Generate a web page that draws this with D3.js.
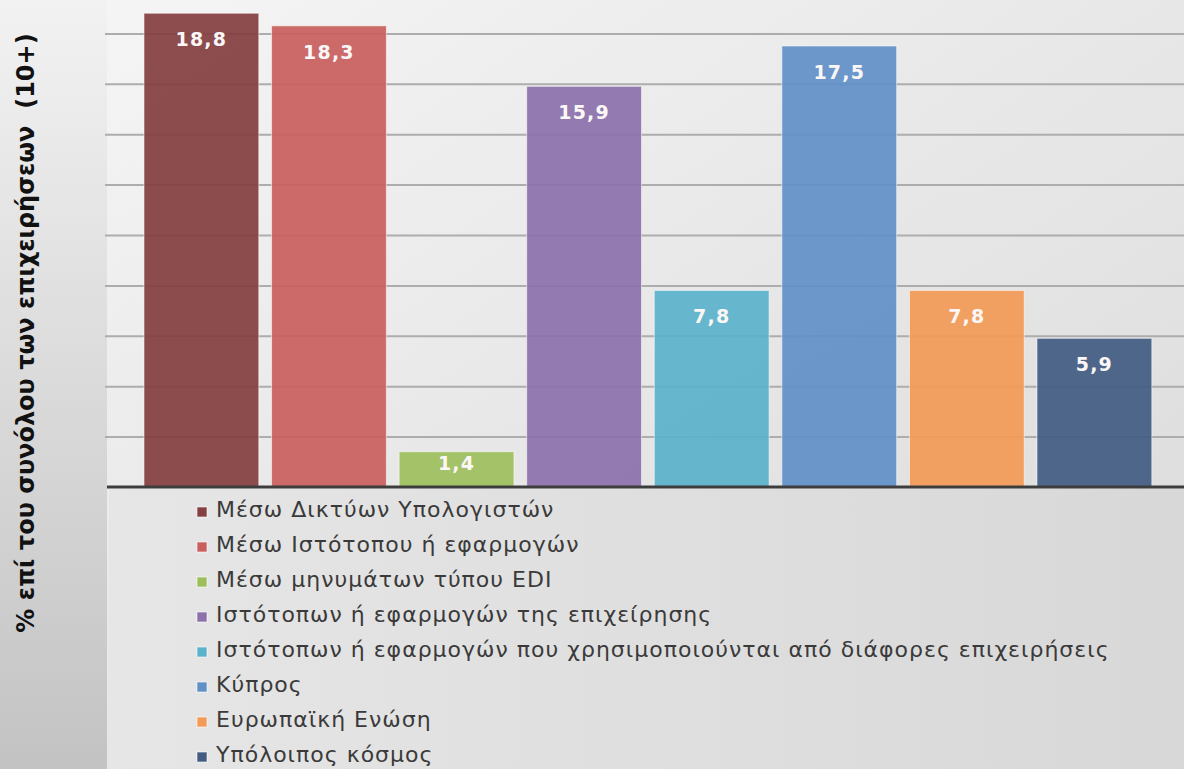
<!DOCTYPE html>
<html>
<head>
<meta charset="utf-8">
<script src="https://cdn.jsdelivr.net/npm/d3@7"></script>
<style>
  body { margin: 0; background: #fff; }
  svg { display: block; }
</style>
</head>
<body>
<div id="chart"></div>
<script>
// data
const categories = [
  "Μέσω Δικτύων Υπολογιστών",
  "Μέσω Ιστότοπου ή εφαρμογών",
  "Μέσω μηνυμάτων τύπου EDI",
  "Ιστότοπων ή εφαρμογών της επιχείρησης",
  "Ιστότοπων ή εφαρμογών που χρησιμοποιούνται από διάφορες επιχειρήσεις",
  "Κύπρος",
  "Ευρωπαϊκή Ενώση",
  "Υπόλοιπος κόσμος"
];
const values = [18.8, 18.3, 1.4, 15.9, 7.8, 17.5, 7.8, 5.9];
const colors = ["#843f42", "#c8605f", "#9ebe5c", "#8c71ab", "#5bb2ca", "#6190c7", "#f39b57", "#435c82"];
const gridTicks = [2, 4, 6, 8, 10, 12, 14, 16, 18];
const yLabel = "% επί του συνόλου των επιχειρήσεων  (10+)";

const W = 1184, H = 769;
const stripW = 107;      // left panel holding the axis title
const baseY = 487;       // zero line

const svg = d3.select("#chart")
  .append("svg")
  .attr("width", W)
  .attr("height", H);

// backgrounds
const defs = svg.append("defs");
const gStrip = defs.append("linearGradient").attr("id", "strip")
  .attr("x1", 0).attr("y1", 0).attr("x2", 0).attr("y2", 1);
gStrip.append("stop").attr("offset", "0%").attr("stop-color", "#f2f2f2");
gStrip.append("stop").attr("offset", "100%").attr("stop-color", "#c3c3c3");

const gPlot = defs.append("linearGradient").attr("id", "plotbg")
  .attr("x1", 0).attr("y1", 0).attr("x2", 1).attr("y2", 1);
gPlot.append("stop").attr("offset", "0%").attr("stop-color", "#f6f6f6");
gPlot.append("stop").attr("offset", "100%").attr("stop-color", "#d9d9d9");

const gLeg = defs.append("linearGradient").attr("id", "legbg")
  .attr("x1", 0).attr("y1", 0).attr("x2", 1).attr("y2", 0);
gLeg.append("stop").attr("offset", "0%").attr("stop-color", "#e6e6e6");
gLeg.append("stop").attr("offset", "100%").attr("stop-color", "#d8d8d8");

svg.append("rect").attr("x", 0).attr("y", 0).attr("width", W).attr("height", H).attr("fill", "url(#plotbg)");
svg.append("rect").attr("x", stripW + 2).attr("y", baseY + 2).attr("width", W - stripW - 2).attr("height", H - baseY - 2)
  .attr("fill", "url(#legbg)");
svg.append("rect").attr("x", 0).attr("y", 0).attr("width", stripW).attr("height", H).attr("fill", "url(#strip)");

// scales
const x = d3.scaleBand()
  .domain(categories)
  .range([137.6, 1158.2])
  .paddingInner(0.1)
  .paddingOuter(0.05);

const y = d3.scaleLinear()
  .domain([0, 20])
  .range([baseY, baseY - 20 * 25.2]);

// gridlines
svg.append("g")
  .attr("class", "y axis-grid")
  .attr("transform", `translate(${stripW - 2},0)`)
  .call(d3.axisLeft(y).tickValues(gridTicks).tickSize(-(W - stripW + 2)).tickFormat(""))
  .call(g => g.select(".domain").remove())
  .call(g => g.selectAll("line").attr("stroke", "#adadad").attr("stroke-width", 2));

// bars
svg.append("g")
  .selectAll("rect")
  .data(values)
  .join("rect")
  .attr("x", (d, i) => x(categories[i]))
  .attr("y", d => y(d))
  .attr("width", x.bandwidth())
  .attr("height", d => y(0) - y(d))
  .attr("fill", (d, i) => colors[i])
  .attr("fill-opacity", 0.93)
  .attr("stroke", "#ffffff")
  .attr("stroke-opacity", 0.55)
  .attr("stroke-width", 1);

// value labels (Greek decimal comma)
const fmt = d3.formatLocale({decimal: ",", thousands: ".", grouping: [3], currency: ["", "€"]}).format(".1f");
svg.append("g")
  .selectAll("text")
  .data(values)
  .join("text")
  .attr("x", (d, i) => x(categories[i]) + x.bandwidth() / 2)
  .attr("y", d => (y(0) - y(d) < 60) ? y(d) + 18.5 : y(d) + 33)
  .attr("text-anchor", "middle")
  .attr("fill", "#fbf7f7")
  .style("font-family", "'DejaVu Sans', Verdana, sans-serif")
  .style("font-weight", "bold")
  .style("font-size", "19px")
  .style("letter-spacing", "1.2px")
  .text(d => fmt(d));

// zero line
svg.append("line")
  .attr("x1", stripW).attr("x2", W)
  .attr("y1", y(0)).attr("y2", y(0))
  .attr("stroke", "#3d3d3d")
  .attr("stroke-width", 3);

// axis title
svg.append("text")
  .attr("transform", `translate(34,333) rotate(-90)`)
  .attr("text-anchor", "middle")
  .attr("fill", "#111")
  .style("font-family", "'DejaVu Sans', Verdana, sans-serif")
  .style("font-weight", "bold")
  .style("font-size", "24px")
  .style("white-space", "pre")
  .attr("xml:space", "preserve")
  .text(yLabel);

// legend
const legend = svg.append("g")
  .selectAll("g")
  .data(categories)
  .join("g")
  .attr("transform", (d, i) => `translate(197,${517 + i * 35})`);

legend.append("rect")
  .attr("x", 0).attr("y", -10)
  .attr("width", 10).attr("height", 10)
  .attr("fill", (d, i) => colors[i])
  .attr("stroke", "#ffffff")
  .attr("stroke-opacity", 0.6)
  .attr("stroke-width", 1);

legend.append("text")
  .attr("x", 19).attr("y", 0)
  .attr("fill", "#3a3a3a")
  .style("font-family", "'DejaVu Sans', Verdana, sans-serif")
  .style("font-size", "22px")
  .style("letter-spacing", "1px")
  .text(d => d);
</script>
</body>
</html>
